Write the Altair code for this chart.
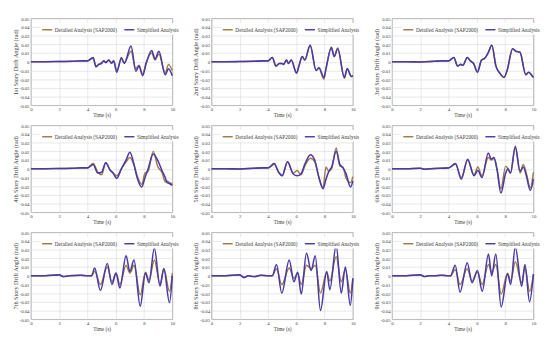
import altair as alt
import pandas as pd

series_names = ["Detailed Analysis (SAP2000)", "Simplified Analysis"]
series_colors = ["#9E7A48", "#4A3AA6"]
y_titles = [
    "1st Story Drift Angle (rad)", "2nd Story Drift Angle (rad)", "3rd Story Drift Angle (rad)",
    "4th Story Drift Angle (rad)", "5th Story Drift Angle (rad)", "6th Story Drift Angle (rad)",
    "7th Story Drift Angle (rad)", "8th Story Drift Angle (rad)", "9th Story Drift Angle (rad)",
]
x_ticks = [0, 2, 4, 6, 8, 10]
y_ticks = [0.05, 0.04, 0.03, 0.02, 0.01, 0, -0.01, -0.02, -0.03, -0.04, -0.05]

t1 = [0, 1, 2, 3, 3.6, 4.0, 4.4, 4.6, 4.8, 5.0, 5.15, 5.3, 5.5, 5.7, 5.85, 6.07, 6.4, 6.6, 7.08, 7.42, 7.64, 7.9, 8.15, 8.54, 8.78, 9.05, 9.5, 9.73, 10.0]
s1 = [0, 0, 0.0003, 0.0005, 0.001, 0.001, 0.005, -0.006, -0.003, -0.002, 0.001, -0.001, 0.002, -0.002, 0.001, -0.012, 0.005, -0.002, 0.018, -0.011, -0.005, -0.016, -0.002, 0.013, 0.003, 0.012, -0.015, -0.008, -0.016]
d1 = [0, 0, 0.0003, 0.0005, 0.001, 0.001, 0.004, -0.005, -0.003, -0.001, 0.001, -0.001, 0.002, -0.001, 0.001, -0.010, 0.003, -0.001, 0.012, -0.008, -0.004, -0.014, -0.001, 0.010, 0.002, 0.009, -0.013, -0.003, -0.010]

t2 = [0, 1, 2, 3, 3.6, 4.0, 4.3, 4.56, 4.8, 5.0, 5.1, 5.3, 5.45, 5.64, 6.02, 6.2, 6.42, 6.6, 6.98, 7.4, 7.6, 7.95, 8.1, 8.48, 8.68, 8.93, 9.4, 9.6, 9.9, 10.0]
s2 = [0, 0, 0.0002, 0.0005, 0.001, 0.001, 0.005, -0.005, -0.002, -0.002, -0.003, 0.002, -0.002, 0.002, -0.013, -0.004, 0.006, 0.002, 0.019, -0.010, -0.007, -0.018, -0.008, 0.016, 0.006, 0.015, -0.018, -0.008, -0.017, -0.016]
d2 = [0, 0, 0.0002, 0.0005, 0.001, 0.001, 0.005, -0.005, -0.002, -0.002, -0.003, 0.002, -0.002, 0.002, -0.013, -0.004, 0.006, 0.002, 0.019, -0.010, -0.007, -0.020, -0.008, 0.017, 0.006, 0.016, -0.019, -0.008, -0.017, -0.016]

t3 = [0, 1, 2, 3, 3.5, 4.0, 4.37, 4.64, 4.86, 5.02, 5.32, 5.54, 5.77, 6.04, 6.33, 6.56, 6.79, 7.06, 7.35, 7.62, 7.92, 8.14, 8.53, 8.76, 9.05, 9.46, 9.66, 9.95, 10.0]
s3 = [0, 0, -0.0003, 0.0005, 0.001, 0.001, 0.005, -0.005, -0.003, -0.004, 0.005, 0.001, -0.002, -0.012, 0.002, 0.004, 0.010, 0.019, -0.005, -0.013, -0.018, -0.010, 0.015, 0.012, 0.011, -0.015, -0.012, -0.017, -0.018]
d3 = [0, 0, -0.0003, 0.0005, 0.001, 0.001, 0.005, -0.005, -0.003, -0.004, 0.005, 0.001, -0.002, -0.012, 0.002, 0.004, 0.010, 0.019, -0.005, -0.013, -0.018, -0.010, 0.015, 0.012, 0.011, -0.015, -0.012, -0.017, -0.018]

t4 = [0, 1, 2, 3, 3.6, 4.0, 4.4, 4.73, 5.0, 5.29, 5.62, 5.78, 6.07, 6.4, 6.73, 7.0, 7.29, 7.51, 7.84, 8.07, 8.29, 8.65, 8.96, 9.29, 9.5, 9.62, 9.8, 10.0]
s4 = [0, 0, 0.0003, 0.0005, 0.001, 0.001, 0.005, -0.005, -0.004, 0.007, -0.002, -0.004, -0.011, 0.000, 0.010, 0.019, 0.005, -0.010, -0.021, -0.010, 0.000, 0.017, 0.010, -0.003, -0.010, -0.016, -0.017, -0.019]
d4 = [0, 0, 0.0003, 0.0005, 0.001, 0.001, 0.006, -0.004, -0.007, 0.007, -0.002, -0.005, -0.008, 0.000, 0.008, 0.013, 0.004, -0.008, -0.018, -0.005, -0.003, 0.020, 0.003, -0.005, -0.015, -0.014, -0.016, -0.017]

t5 = [0, 1, 2, 3, 3.6, 4.0, 4.44, 4.75, 5.0, 5.38, 5.78, 6.07, 6.33, 6.6, 7.0, 7.3, 7.6, 7.89, 8.1, 8.3, 8.5, 8.82, 9.08, 9.3, 9.5, 9.84, 10.0]
s5 = [0, 0, -0.0003, 0.0005, 0.001, 0.001, 0.006, -0.004, -0.008, 0.008, -0.006, -0.008, -0.006, 0.005, 0.016, 0.010, -0.010, -0.023, -0.012, -0.003, 0.002, 0.020, 0.005, 0.001, -0.005, -0.021, -0.014]
d5 = [0, 0, -0.0003, 0.0005, 0.001, 0.001, 0.005, -0.004, -0.008, 0.008, -0.005, -0.002, -0.007, 0.003, 0.012, 0.008, -0.010, -0.022, 0.002, -0.003, 0.000, 0.024, 0.003, 0.002, -0.010, -0.016, -0.009]

t6 = [0, 1, 2, 2.3, 3, 4.0, 4.49, 4.9, 5.35, 5.8, 6.07, 6.36, 6.81, 7.03, 7.21, 7.42, 7.7, 8.04, 8.2, 8.38, 8.72, 9.06, 9.28, 9.5, 9.78, 10.0]
s6 = [0, 0, 0.0005, -0.0005, 0.0003, 0.001, 0.006, -0.012, 0.011, -0.008, -0.002, -0.010, 0.018, 0.011, 0.013, 0.000, -0.028, -0.005, 0.000, -0.005, 0.026, -0.003, 0.002, -0.008, -0.025, -0.012]
d6 = [0, 0, 0.0005, -0.0005, 0.0003, 0.001, 0.005, -0.010, 0.010, -0.007, 0.002, -0.008, 0.013, 0.010, 0.012, 0.000, -0.023, 0.003, 0.000, -0.005, 0.024, -0.005, 0.005, -0.005, -0.022, -0.004]

t7 = [0, 1, 2, 2.3, 2.7, 3.5, 4.0, 4.29, 4.51, 4.91, 5.4, 5.73, 6.02, 6.29, 6.73, 7.0, 7.29, 7.73, 8.1, 8.35, 8.73, 9.13, 9.4, 9.8, 10.0]
s7 = [0, 0, 0.001, -0.001, 0.0, 0.0005, 0.0, 0.0, 0.009, -0.017, 0.014, -0.010, 0.003, -0.014, 0.023, 0.005, 0.018, -0.035, 0.003, -0.008, 0.032, -0.012, 0.008, -0.031, 0.000]
d7 = [0, 0, 0.001, -0.001, 0.0, 0.0005, 0.0, 0.0, 0.005, -0.010, 0.010, -0.007, 0.003, -0.010, 0.012, 0.003, 0.012, -0.022, 0.004, -0.005, 0.018, -0.010, 0.008, -0.018, 0.003]

t8 = [0, 1, 2, 2.3, 2.6, 3.0, 3.5, 4.0, 4.3, 4.6, 4.97, 5.5, 5.83, 6.1, 6.35, 6.72, 7.05, 7.34, 7.71, 8.15, 8.37, 8.82, 9.18, 9.47, 9.82, 10.0]
s8 = [0, 0, 0.001, -0.002, 0.0, -0.001, 0.0005, 0.0, 0.0, 0.013, -0.020, 0.018, -0.007, 0.004, -0.021, 0.026, 0.006, 0.023, -0.040, 0.005, -0.016, 0.035, -0.020, 0.010, -0.034, -0.003]
d8 = [0, 0, 0.001, -0.002, 0.0, -0.001, 0.0005, 0.0, 0.0, 0.008, -0.010, 0.009, -0.003, 0.003, -0.010, 0.012, 0.008, 0.012, -0.020, 0.004, -0.006, 0.022, -0.007, 0.007, -0.020, -0.003]

t9 = [0, 1, 2, 2.3, 2.6, 3.0, 3.5, 4.0, 4.14, 4.47, 4.81, 5.32, 5.66, 6.04, 6.38, 6.82, 7.05, 7.34, 7.72, 8.17, 8.39, 8.72, 9.17, 9.4, 9.73, 10.0]
s9 = [0, 0, 0.001, -0.001, 0.0, 0.0, 0.0005, 0.0, 0.0, 0.012, -0.019, 0.015, -0.008, 0.006, -0.018, 0.025, 0.000, 0.025, -0.036, 0.002, -0.010, 0.033, -0.012, 0.013, -0.030, 0.002]
d9 = [0, 0, 0.001, -0.001, 0.0, 0.0, 0.0005, 0.0, 0.0, 0.007, -0.010, 0.008, -0.006, 0.004, -0.010, 0.013, 0.004, 0.013, -0.021, 0.003, -0.006, 0.016, -0.008, 0.009, -0.018, 0.001]

panels_data = [
    (t1, d1, s1), (t2, d2, s2), (t3, d3, s3),
    (t4, d4, s4), (t5, d5, s5), (t6, d6, s6),
    (t7, d7, s7), (t8, d8, s8), (t9, d9, s9),
]

y_label_expr = "datum.value == 0 ? '0' : replace(format(datum.value, '.2f'), '\u2212', '-')"


def make_panel(t, d, s, title):
    rows = [{"time": a, "drift": b, "series": series_names[0]} for a, b in zip(t, d)]
    rows += [{"time": a, "drift": b, "series": series_names[1]} for a, b in zip(t, s)]
    df = pd.DataFrame(rows)
    base = alt.Chart(df).encode(
        x=alt.X("time:Q", scale=alt.Scale(domain=[0, 10], nice=False),
                axis=alt.Axis(values=x_ticks, title="Time (s)", titleFontSize=5.5)),
        y=alt.Y("drift:Q", scale=alt.Scale(domain=[-0.05, 0.05], nice=False),
                axis=alt.Axis(values=y_ticks, title=title, labelExpr=y_label_expr,
                              titleFontSize=6.5)),
        color=alt.Color("series:N",
                        scale=alt.Scale(domain=series_names, range=series_colors),
                        legend=alt.Legend(title=None)),
    )
    det = base.transform_filter(alt.datum.series == series_names[0]).mark_line(
        interpolate="monotone", strokeWidth=1.5)
    sim = base.transform_filter(alt.datum.series == series_names[1]).mark_line(
        interpolate="monotone", strokeWidth=1.6)
    return alt.layer(det, sim).properties(width=148, height=91)


panels = [make_panel(t, d, s, title) for (t, d, s), title in zip(panels_data, y_titles)]

chart = alt.concat(*panels, columns=3, spacing={"row": 4, "column": 12}).resolve_scale(
    color="independent").resolve_legend(color="independent").properties(
    padding={"left": 4, "top": 0, "right": 0, "bottom": 0}
).configure_axis(
    labelFont="Liberation Serif", titleFont="Liberation Serif",
    labelFontSize=5, titleFontWeight="normal",
    labelColor="#404040", titleColor="#404040",
    gridColor="#d9d9d9", gridWidth=0.6, domain=False, ticks=False,
    labelPadding=2, titlePadding=1, labelFlush=False,
).configure_legend(
    orient="none", legendX=10, legendY=5, direction="horizontal",
    fillColor="white", padding=1, gridAlign="none",
    labelFont="Liberation Serif", labelFontSize=5.5, labelColor="#404040",
    labelLimit=300, symbolType="stroke", symbolSize=110, symbolStrokeWidth=1.5,
    columnPadding=3, labelOffset=2,
).configure_view(stroke="#8c8c8c", strokeWidth=0.8)

chart.save("out.html", embed_options={"renderer": "svg", "actions": False})
